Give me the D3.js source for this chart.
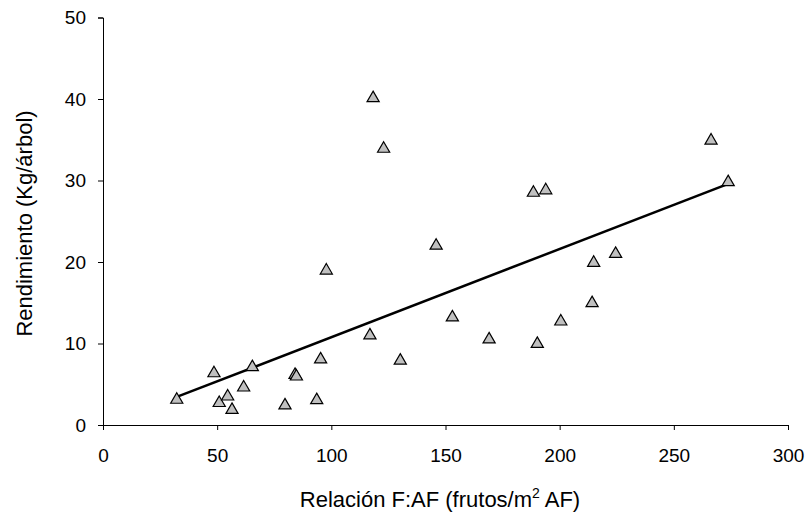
<!DOCTYPE html>
<html>
<head>
<meta charset="utf-8">
<script src="https://cdn.jsdelivr.net/npm/d3@7"></script>
<style>
  html, body { margin: 0; padding: 0; background: #fff; }
  svg { display: block; font-family: "Liberation Sans", Arial, sans-serif; }
</style>
</head>
<body>
<svg id="chart" width="806" height="515"></svg>
<script>
// Relación frutos / área foliar vs rendimiento por árbol
const frutosAF = [32.3, 48.6, 50.9, 54.6, 56.5, 61.6, 65.4, 79.7, 84.1, 84.7, 93.6, 95.3, 97.8,
  116.9, 118.3, 122.9, 130.2, 145.9, 153.0, 169.1, 188.5, 190.2, 193.9, 200.5, 214.2, 214.9,
  224.5, 266.3, 273.8];
const rendimiento = [3.1, 6.35, 2.7, 3.5, 1.85, 4.6, 7.1, 2.4, 6.15, 5.95, 3.05, 8.05, 18.95,
  11.0, 40.1, 33.9, 7.9, 22.0, 13.2, 10.5, 28.5, 9.95, 28.8, 12.7, 14.95, 19.9,
  21.0, 34.9, 29.8];
const xTicks = [0, 50, 100, 150, 200, 250, 300];
const yTicks = [0, 10, 20, 30, 40, 50];

const svg = d3.select("#chart");
const x = d3.scaleLinear().domain([0, 300]).range([103, 788]);
const y = d3.scaleLinear().domain([0, 50]).range([425, 17.5]);

// Axes
const xAxis = svg.append("g")
  .attr("transform", `translate(0,${y(0)})`)
  .call(d3.axisBottom(x).tickValues(xTicks).tickSizeOuter(0).tickSize(5).tickPadding(19));
const yAxis = svg.append("g")
  .attr("transform", `translate(${x(0)},0)`)
  .call(d3.axisLeft(y).tickValues(yTicks).tickSizeOuter(0).tickSize(5).tickPadding(12));
[xAxis, yAxis].forEach(g => {
  g.selectAll("path.domain").attr("stroke", "#000").attr("stroke-width", 1);
  g.selectAll(".tick line").attr("stroke", "#000").attr("stroke-width", 1);
  g.selectAll("text").attr("fill", "#000").style("font-size", "19px")
    .style("font-family", "'Liberation Sans', Arial, sans-serif");
});

// Linear trend (least squares)
const n = frutosAF.length;
const mx = d3.mean(frutosAF), my = d3.mean(rendimiento);
let sxy = 0, sxx = 0;
for (let i = 0; i < n; i++) {
  sxy += (frutosAF[i] - mx) * (rendimiento[i] - my);
  sxx += (frutosAF[i] - mx) ** 2;
}
const slope = sxy / sxx, intercept = my - slope * mx;
const [xmin, xmax] = d3.extent(frutosAF);
svg.append("line")
  .attr("x1", x(xmin)).attr("y1", y(intercept + slope * xmin))
  .attr("x2", x(xmax)).attr("y2", y(intercept + slope * xmax))
  .attr("stroke", "#000").attr("stroke-width", 2.5);

// Points
const tri = d3.symbol().type(d3.symbolTriangle).size(64);
svg.append("g").selectAll("path")
  .data(frutosAF.map((v, i) => [v, rendimiento[i]]))
  .join("path")
  .attr("d", tri)
  .attr("transform", d => `translate(${x(d[0])},${y(d[1])})`)
  .attr("fill", "#c0c0c0").attr("stroke", "#000").attr("stroke-width", 1.2);

// Axis titles
svg.append("text")
  .attr("x", 440).attr("y", 507)
  .attr("text-anchor", "middle").style("font-size", "22px")
  .html('Relación F:AF (frutos/m<tspan dy="-9" font-size="14px">2</tspan><tspan dy="9"> AF)</tspan>');
svg.append("text")
  .attr("transform", "translate(32,223.5) rotate(-90)")
  .attr("text-anchor", "middle").style("font-size", "22px")
  .text("Rendimiento (Kg/árbol)");
</script>
</body>
</html>
